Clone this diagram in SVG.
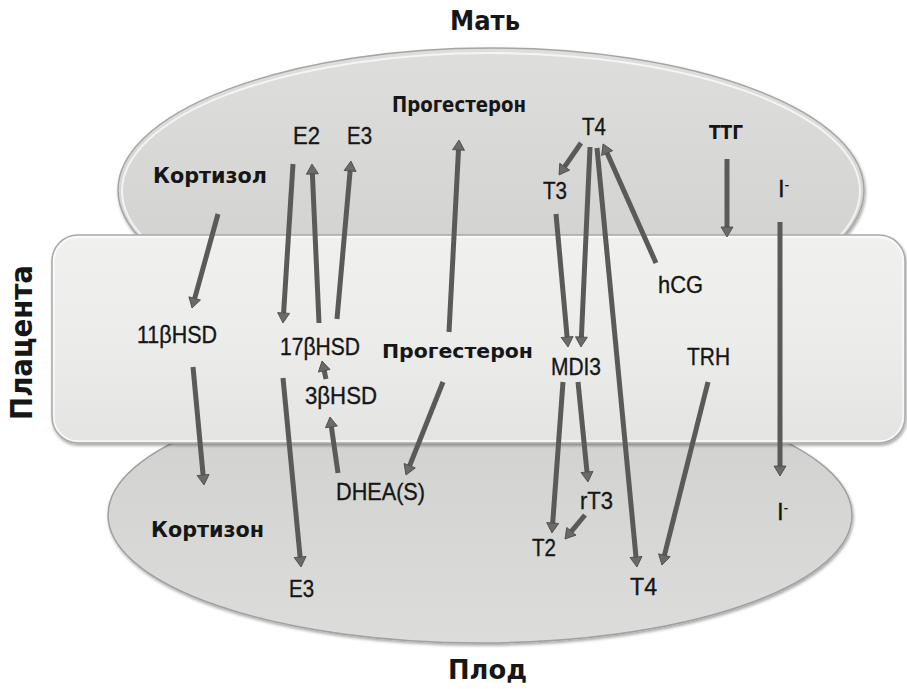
<svg xmlns="http://www.w3.org/2000/svg" width="907" height="689" viewBox="0 0 907 689">
<defs>
<style>
.lbl{font-family:"Liberation Sans Narrow","Liberation Sans",Arial,sans-serif;font-size:24px;fill:#161616;stroke:#161616;stroke-width:0.35px}
.bld{font-family:"DejaVu Sans","Noto Sans",sans-serif;font-weight:bold;fill:#161616}
.ar{stroke:#5a5a5a;stroke-width:5;fill:none}
</style>
<linearGradient id="gTop" x1="0" y1="0" x2="0" y2="1">
<stop offset="0" stop-color="#dededc"/>
<stop offset="1" stop-color="#cececc"/>
</linearGradient>
<linearGradient id="gBot" x1="0" y1="0" x2="0" y2="1">
<stop offset="0" stop-color="#d0d0ce"/>
<stop offset="1" stop-color="#dcdcda"/>
</linearGradient>
<linearGradient id="gRect" x1="0" y1="0" x2="0" y2="1">
<stop offset="0" stop-color="#f0f0ef"/>
<stop offset="0.5" stop-color="#ececeb"/>
<stop offset="1" stop-color="#e4e4e2"/>
</linearGradient>
<filter id="sh" x="-5%" y="-5%" width="110%" height="115%">
<feDropShadow dx="1" dy="2" stdDeviation="1.5" flood-color="#000" flood-opacity="0.35"/>
</filter>
<marker id="ah" viewBox="0 0 10 12" refX="0" refY="6" markerWidth="10" markerHeight="12" markerUnits="userSpaceOnUse" orient="auto" overflow="visible">
<path d="M0,0 L10,6 L0,12 Z" fill="#6a6a6a" stroke="#474747" stroke-width="0.8"/>
</marker>
</defs>
<rect width="907" height="689" fill="#ffffff"/>

<g id="mother">
<ellipse cx="491" cy="190" rx="373" ry="142" fill="url(#gTop)" stroke="#a5a5a5" stroke-width="1.5" filter="url(#sh)"/>
<ellipse cx="491" cy="191" rx="369" ry="138" fill="none" stroke="#ffffff" stroke-opacity="0.7" stroke-width="2"/>
</g>
<g id="fetus">
<ellipse cx="480" cy="515" rx="372" ry="128" fill="url(#gBot)" stroke="#a0a0a0" stroke-width="1.5" filter="url(#sh)"/>
</g>
<g id="placenta">
<rect x="52" y="235" width="853" height="208" rx="26" ry="26" fill="url(#gRect)" stroke="#aaaaaa" stroke-width="1.5" filter="url(#sh)"/>
<rect x="54" y="237" width="849" height="204" rx="24" ry="24" fill="none" stroke="#ffffff" stroke-opacity="0.8" stroke-width="1.5"/>
</g>

<g id="titles">
<text class="bld" x="450" y="30" font-size="27" textLength="70" lengthAdjust="spacingAndGlyphs">Мать</text>
<text class="bld" x="448" y="679" font-size="27" textLength="79" lengthAdjust="spacingAndGlyphs">Плод</text>
<text class="bld" transform="translate(32,420) rotate(-90)" x="0" y="0" font-size="31" textLength="155" lengthAdjust="spacingAndGlyphs">Плацента</text>
</g>

<g id="connectors">
<line class="ar" x1="218" y1="214" x2="194.7" y2="298.4" marker-end="url(#ah)"/>
<line class="ar" x1="293" y1="164" x2="283.6" y2="313" marker-end="url(#ah)"/>
<line class="ar" x1="319" y1="323" x2="312.4" y2="174" marker-end="url(#ah)"/>
<line class="ar" x1="337" y1="319" x2="350.1" y2="171" marker-end="url(#ah)"/>
<line class="ar" x1="283" y1="378" x2="300.1" y2="557" marker-end="url(#ah)"/>
<line class="ar" x1="193" y1="367" x2="203.1" y2="475" marker-end="url(#ah)"/>
<line class="ar" x1="326" y1="379" x2="324.2" y2="370.8" marker-end="url(#ah)"/>
<line class="ar" x1="338" y1="473" x2="331.4" y2="426.9" marker-end="url(#ah)"/>
<line class="ar" x1="443" y1="382" x2="409.7" y2="465.7" marker-end="url(#ah)"/>
<line class="ar" x1="449" y1="332" x2="458.5" y2="150" marker-end="url(#ah)"/>
<line class="ar" x1="581" y1="143" x2="564.7" y2="166.7" marker-end="url(#ah)"/>
<line class="ar" x1="556" y1="214" x2="567.1" y2="337" marker-end="url(#ah)"/>
<line class="ar" x1="590" y1="147" x2="581.4" y2="337" marker-end="url(#ah)"/>
<line class="ar" x1="597" y1="148" x2="636" y2="557" marker-end="url(#ah)"/>
<line class="ar" x1="656" y1="263" x2="607.1" y2="153.1" marker-end="url(#ah)"/>
<line class="ar" x1="727" y1="159" x2="727" y2="227" marker-end="url(#ah)"/>
<line class="ar" x1="780" y1="222" x2="780" y2="466" marker-end="url(#ah)"/>
<line class="ar" x1="563" y1="382" x2="552.7" y2="523" marker-end="url(#ah)"/>
<line class="ar" x1="578" y1="382" x2="587" y2="472" marker-end="url(#ah)"/>
<line class="ar" x1="585" y1="515" x2="571.4" y2="531.3" marker-end="url(#ah)"/>
<line class="ar" x1="708" y1="382" x2="664.4" y2="555.3" marker-end="url(#ah)"/>
</g>

<g id="n-cortisol"><text class="bld" x="153" y="183" font-size="21" textLength="114" lengthAdjust="spacingAndGlyphs">Кортизол</text></g>
<g id="n-e2"><text class="lbl" x="293" y="144" textLength="27" lengthAdjust="spacingAndGlyphs">E2</text></g>
<g id="n-e3-top"><text class="lbl" x="347" y="144" textLength="25" lengthAdjust="spacingAndGlyphs">E3</text></g>
<g id="n-prog-top"><text class="bld" x="392" y="112" font-size="21" textLength="134" lengthAdjust="spacingAndGlyphs">Прогестерон</text></g>
<g id="n-t4-top"><text class="lbl" x="582" y="135" textLength="24" lengthAdjust="spacingAndGlyphs">T4</text></g>
<g id="n-t3"><text class="lbl" x="543" y="199" textLength="24" lengthAdjust="spacingAndGlyphs">T3</text></g>
<g id="n-ttg"><text class="bld" x="709" y="139" font-size="19" textLength="34" lengthAdjust="spacingAndGlyphs">ТТГ</text></g>
<g id="n-i-top"><text class="lbl" x="778" y="197">I<tspan font-size="13" dy="-8">-</tspan></text></g>
<g id="n-hcg"><text class="lbl" x="658" y="293" textLength="45" lengthAdjust="spacingAndGlyphs">hCG</text></g>
<g id="n-11bhsd"><text class="lbl" x="137" y="343" textLength="80" lengthAdjust="spacingAndGlyphs">11βHSD</text></g>
<g id="n-17bhsd"><text class="lbl" x="280" y="355" textLength="80" lengthAdjust="spacingAndGlyphs">17βHSD</text></g>
<g id="n-prog-mid"><text class="bld" x="382" y="358" font-size="20" textLength="151" lengthAdjust="spacingAndGlyphs">Прогестерон</text></g>
<g id="n-3bhsd"><text class="lbl" x="305" y="404" textLength="72" lengthAdjust="spacingAndGlyphs">3βHSD</text></g>
<g id="n-dhea"><text class="lbl" x="336" y="500" textLength="89" lengthAdjust="spacingAndGlyphs">DHEA(S)</text></g>
<g id="n-mdi3"><text class="lbl" x="551" y="375" textLength="50" lengthAdjust="spacingAndGlyphs">MDI3</text></g>
<g id="n-trh"><text class="lbl" x="687" y="365" textLength="43" lengthAdjust="spacingAndGlyphs">TRH</text></g>
<g id="n-rt3"><text class="lbl" x="580" y="509" textLength="33" lengthAdjust="spacingAndGlyphs">rT3</text></g>
<g id="n-t2"><text class="lbl" x="532" y="556" textLength="24" lengthAdjust="spacingAndGlyphs">T2</text></g>
<g id="n-t4-bot"><text class="lbl" x="630" y="595" textLength="27" lengthAdjust="spacingAndGlyphs">T4</text></g>
<g id="n-i-bot"><text class="lbl" x="777" y="520">I<tspan font-size="13" dy="-8">-</tspan></text></g>
<g id="n-cortisone"><text class="bld" x="151" y="537" font-size="21" textLength="113" lengthAdjust="spacingAndGlyphs">Кортизон</text></g>
<g id="n-e3-bot"><text class="lbl" x="289" y="597" textLength="25" lengthAdjust="spacingAndGlyphs">E3</text></g>
</svg>
